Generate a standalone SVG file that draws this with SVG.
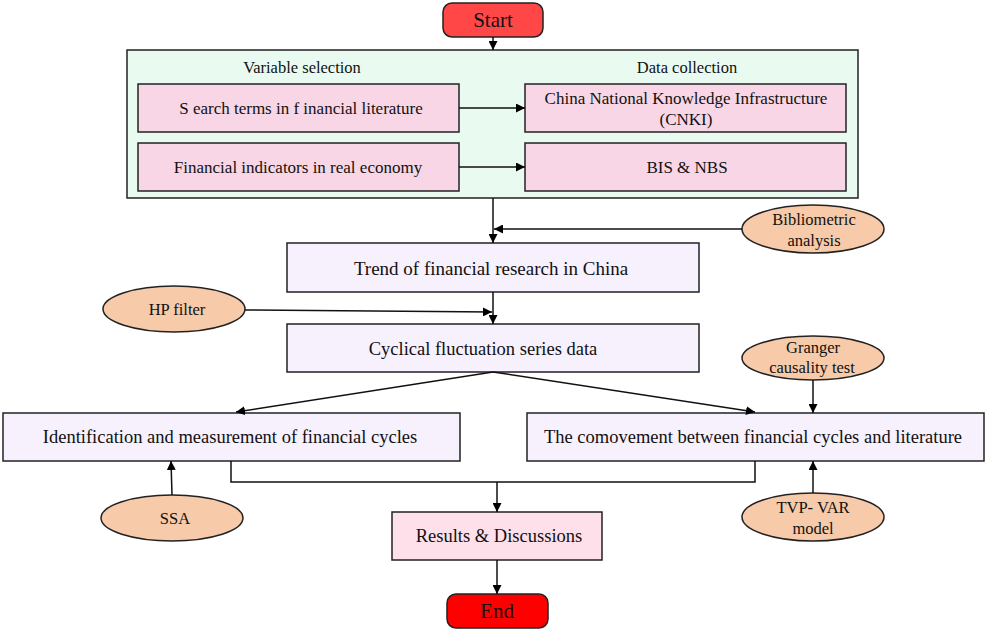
<svg xmlns="http://www.w3.org/2000/svg" width="985" height="630" viewBox="0 0 985 630">
<defs>
<marker id="ah" viewBox="0 0 10 10" refX="10" refY="5" markerWidth="9" markerHeight="9" markerUnits="userSpaceOnUse" orient="auto">
<path d="M0,0 L10,5 L0,10 z" fill="#000"/>
</marker>
</defs>
<style>
text{font-family:"Liberation Serif","Times New Roman",serif;fill:#111;text-anchor:middle;dominant-baseline:central}
.box{stroke:#222;stroke-width:1.5}
.pink{fill:#f9d6e5}
.lav{fill:#f7f0fd}
.ell{fill:#f7caa9;stroke:#222;stroke-width:1.5}
.c{fill:none;stroke:#111;stroke-width:1.5}
.a{fill:none;stroke:#111;stroke-width:1.5;marker-end:url(#ah)}
.t15{font-size:17px}
.t17{font-size:18.5px}
.t14{font-size:16.5px}
</style>
<rect width="985" height="630" fill="#fff"/>
<g id="start"><rect class="box" x="443" y="3" width="100" height="34" rx="9" fill="#ff4747"/><text x="493" y="20" style="font-size:21px">Start</text></g>
<g id="group-box"><rect class="box" x="127" y="50" width="731" height="148" fill="#e9fbf0"/>
<text class="t14" x="302" y="67">Variable  selection</text>
<text class="t14" x="687" y="67">Data collection</text></g>
<g id="search"><rect class="box pink" x="138" y="84" width="321" height="48"/><text class="t15" x="301" y="108">S earch terms  in f inancial  literature</text></g>
<g id="cnki"><rect class="box pink" x="525" y="84" width="321" height="48"/><text class="t15" x="686" y="98">China National Knowledge Infrastructure</text><text class="t15" x="686" y="119">(CNKI)</text></g>
<g id="indicators"><rect class="box pink" x="138" y="143" width="321" height="48"/><text class="t15" x="298" y="167">Financial indicators in real economy</text></g>
<g id="bis"><rect class="box pink" x="525" y="143" width="321" height="48"/><text class="t15" x="687" y="167">BIS &amp; NBS</text></g>
<g id="biblio"><ellipse class="ell" cx="813" cy="229" rx="71" ry="24"/><text class="t14" x="814" y="219">Bibliometric</text><text class="t14" x="814" y="240">analysis</text></g>
<g id="trend"><rect class="box lav" x="287" y="243" width="412" height="49"/><text x="491" y="268" style="font-size:19px">Trend of financial research in China</text></g>
<g id="hp"><ellipse class="ell" cx="174" cy="309" rx="71" ry="23"/><text class="t14" x="177" y="309">HP filter</text></g>
<g id="cyclical"><rect class="box lav" x="287" y="324" width="412" height="48"/><text class="t17" x="483" y="349">Cyclical fluctuation series data</text></g>
<g id="granger"><ellipse class="ell" cx="813" cy="358" rx="71" ry="22"/><text class="t14" x="813" y="347">Granger</text><text class="t14" x="812" y="367">causality test</text></g>
<g id="identification"><rect class="box lav" x="3" y="413" width="457" height="48"/><text class="t17" x="230" y="437">Identification and measurement of financial cycles</text></g>
<g id="comovement"><rect class="box lav" x="527" y="413" width="457" height="48"/><text class="t17" x="753" y="437">The comovement between financial cycles and literature</text></g>
<g id="ssa"><ellipse class="ell" cx="172" cy="518" rx="71" ry="23"/><text class="t14" x="175" y="518">SSA</text></g>
<g id="tvp"><ellipse class="ell" cx="813" cy="517" rx="71" ry="24"/><text class="t14" x="813" y="507">TVP- VAR</text><text class="t14" x="813" y="528">model</text></g>
<g id="results"><rect class="box" x="392" y="512" width="210" height="48" fill="#fde0e9"/><text class="t17" x="499" y="536">Results &amp; Discussions</text></g>
<g id="end"><rect class="box" x="447" y="594" width="101" height="34" rx="9" fill="#ff0000"/><text x="497" y="611" style="font-size:21px">End</text></g>
<g id="connectors">
<line class="a" x1="493" y1="37" x2="493" y2="50"/>
<line class="a" x1="459" y1="108" x2="525" y2="108"/>
<line class="a" x1="459" y1="167" x2="525" y2="167"/>
<line class="a" x1="493" y1="198" x2="493" y2="243"/>
<line class="a" x1="742" y1="229" x2="494" y2="229"/>
<line class="a" x1="493" y1="292" x2="493" y2="324"/>
<line class="a" x1="245" y1="310" x2="492" y2="312"/>
<line class="a" x1="493" y1="372" x2="236" y2="412"/>
<line class="a" x1="493" y1="372" x2="755" y2="412"/>
<line class="a" x1="813" y1="380" x2="813" y2="413"/>
<line class="a" x1="172" y1="495" x2="171" y2="461"/>
<line class="a" x1="813" y1="493" x2="813" y2="461"/>
<polyline class="c" points="231,461 231,482 755,482 755,461"/>
<line class="a" x1="497" y1="482" x2="497" y2="512"/>
<line class="a" x1="497" y1="560" x2="497" y2="594"/>
</g>
</svg>
